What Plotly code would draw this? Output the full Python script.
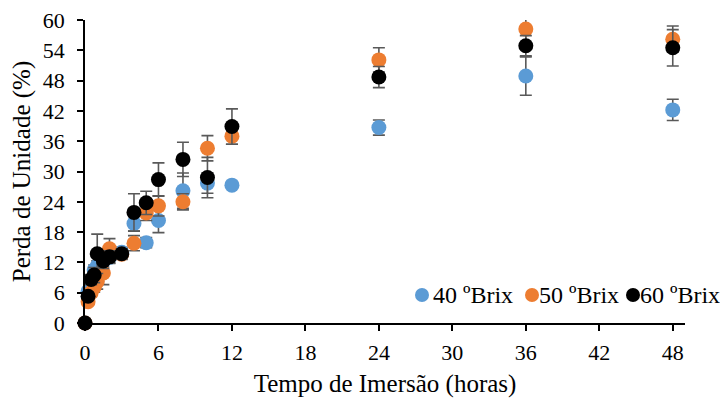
import plotly.graph_objects as go

times = [0, 0.25, 0.5, 0.75, 1, 1.5, 2, 3, 4, 5, 6, 8, 10, 12, 24, 36, 48]

brix40 = [0, 6.3, 8.2, 10.5, 11.3, 12.3, 13.0, 14.0, 19.7, 15.9, 20.3, 26.2, 27.7, 27.3, 38.7, 48.9, 42.2]
brix40_err = [0, 0.8, 0.8, 1.0, 1.0, 1.2, 1.2, 1.0, 1.5, 1.0, 2.4, 3.5, 2.0, 0.3, 1.5, 3.8, 2.1]

brix50 = [0, 4.2, 6.0, 7.1, 8.2, 9.9, 14.7, 13.6, 15.8, 21.8, 23.2, 24.0, 34.6, 37.0, 52.1, 58.2, 56.2]
brix50_err = [0, 0.5, 0.8, 1.0, 1.5, 2.3, 2.0, 1.0, 1.5, 1.5, 2.0, 1.6, 2.5, 1.6, 2.4, 3.0, 2.6]

brix60 = [0, 5.3, 8.6, 9.5, 13.7, 12.3, 13.1, 13.7, 21.9, 23.8, 28.4, 32.4, 28.8, 38.9, 48.7, 54.9, 54.5]
brix60_err = [0, 0.8, 1.0, 1.5, 3.9, 1.5, 1.2, 1.0, 3.7, 2.3, 3.3, 3.4, 4.0, 3.5, 2.1, 2.0, 3.6]

names = ["40 ºBrix", "50 ºBrix", "60 ºBrix"]
colors = ["#5B9BD5", "#ED7D31", "#000000"]
series = [(brix40, brix40_err), (brix50, brix50_err), (brix60, brix60_err)]

x_ticks = [0, 6, 12, 18, 24, 30, 36, 42, 48]
y_ticks = [0, 6, 12, 18, 24, 30, 36, 42, 48, 54, 60]

FONT = "Liberation Serif"
TICK_SIZE = 22
TITLE_SIZE = 25

# plot area (figure pixels)
L, T, R, B = 77, 12, 51, 85
W, H = 728, 400
PW, PH = W - L - R, H - T - B

fig = go.Figure()
for name, color, (vals, errs) in zip(names, colors, series):
    fig.add_trace(go.Scatter(
        x=times, y=vals, mode="markers", name=name,
        marker=dict(color=color, size=15),
        error_y=dict(type="data", array=errs, visible=True,
                     color="#595959", thickness=1.6, width=6),
        cliponaxis=False, showlegend=False,
    ))

# legend drawn as real text + dot symbols, placed like the reference
leg_dot_px = [414, 524, 625]
leg_txt_px = [424, 530, 631]
leg_y_px = 287
shapes = []
annotations = []
for name, color, dx, tx in zip(names, colors, leg_dot_px, leg_txt_px):
    xp = (dx - L) / PW
    yp = (H - B - leg_y_px) / PH
    shapes.append(dict(type="circle", xref="paper", yref="paper",
                       xsizemode="pixel", ysizemode="pixel",
                       xanchor=xp, yanchor=yp, x0=-7, x1=7, y0=-7, y1=7,
                       fillcolor=color, line=dict(width=0)))
    annotations.append(dict(text=name, xref="paper", yref="paper",
                            x=(tx - L) / PW, y=yp, xanchor="left", yanchor="middle",
                            showarrow=False, borderpad=0,
                            font=dict(family=FONT, size=24, color="#000000")))

fig.update_layout(
    width=W, height=H,
    margin=dict(l=L, r=R, t=T, b=B, autoexpand=False),
    paper_bgcolor="white", plot_bgcolor="white",
    font=dict(family=FONT, size=TICK_SIZE, color="#000000"),
    showlegend=False,
    shapes=shapes, annotations=annotations,
    xaxis=dict(range=[0, 49], tickvals=x_ticks, ticks="outside", ticklen=6,
               tickcolor="black", tickwidth=1.5, showline=True, linecolor="black",
               linewidth=1.5, showgrid=False, zeroline=False, automargin=False,
               ticklabelstandoff=3, ticklabeloverflow="allow",
               title=dict(text="Tempo de Imersão (horas)", standoff=10,
                          font=dict(family=FONT, size=TITLE_SIZE, color="#000000")),
               tickfont=dict(family=FONT, size=TICK_SIZE, color="#000000")),
    yaxis=dict(range=[0, 60], tickvals=y_ticks, ticks="outside", ticklen=6,
               tickcolor="black", tickwidth=1.5, showline=True, linecolor="black",
               linewidth=1.5, showgrid=False, zeroline=False, automargin=False,
               ticklabelstandoff=8, ticklabeloverflow="allow",
               title=dict(text="Perda de Unidade (%)", standoff=8,
                          font=dict(family=FONT, size=TITLE_SIZE, color="#000000")),
               tickfont=dict(family=FONT, size=TICK_SIZE, color="#000000")),
)

fig.write_html("out.html")
